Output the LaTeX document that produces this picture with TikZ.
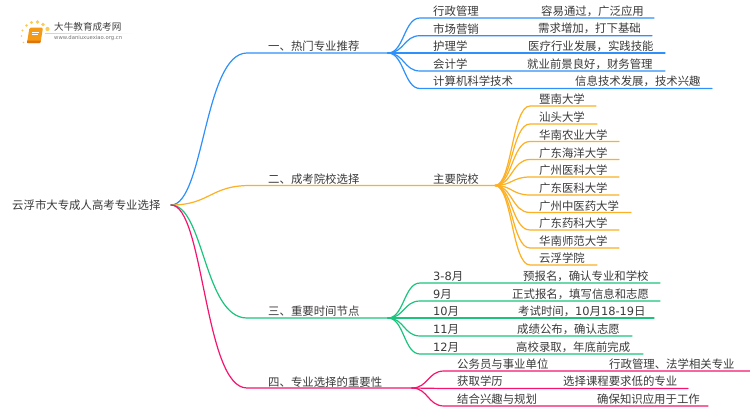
\documentclass[tikz,border=0pt]{standalone}
\usepackage{fontspec}
\usetikzlibrary{calc}
\setmainfont{Noto Sans CJK SC}
\newfontfamily\latf{DejaVu Sans}
\definecolor{cblue}{HTML}{2E90FA}
\definecolor{corange}{HTML}{FDB022}
\definecolor{cgreen}{HTML}{1BC47D}
\definecolor{cpink}{HTML}{F5146E}
\definecolor{ctext}{HTML}{3A3A3A}
\definecolor{bookc}{HTML}{F59A14}
\definecolor{bookd}{HTML}{E0740C}
\definecolor{dotc}{HTML}{FBCB5A}
\tikzset{
  lab/.style={anchor=west,inner sep=0pt,text=ctext,font=\fontsize{11.4}{12}\selectfont},
  conn/.style={line width=1.2pt,line cap=round,line join=round},
}
% \leaf{colour}{junction}{name}{line start x}{line end x}{line y}{text x}{text}{text2 x} {text2}
\newcommand{\leaf}[9]{%
  \coordinate (#3s) at (#4,#6);
  \coordinate (#3e) at (#5,#6);
  \coordinate (#3m) at ($(#2)!0.5!(#3s)$);
  \draw[conn,#1] (#2) .. controls (#3m |- #2) and (#3m |- #3s) .. (#3s) -- (#3e);
  \node[lab] (#3a) at (#7,#6-7) {#8};
  \node[lab] (#3b) at (#9,#6-7) }
\begin{document}
\begin{tikzpicture}[x=1pt,y=-1pt]
\useasboundingbox (0,0) rectangle (750,410);
\fill[white] (0,0) rectangle (750,410);
% logo
\fill[bookc,rounded corners=1.5pt] (29.5,27.5) -- (43,27.5) -- (40.5,43) -- (27,43) -- cycle;
\fill[bookd] (27,40.5) -- (40.7,40.5) -- (40.3,43) -- (27,43) -- cycle;
\draw[white,line width=.5pt] (32,32) -- (38.5,32) (31.5,34.5) -- (38,34.5);
\foreach \px/\py/\r in {47.5/29/2.1,43/24.5/1.9,37.5/22/1.8,31.5/22.5/1.6,26.5/25.5/1.3,22.5/30.5/1.1,21.5/36/.9,23.5/42.5/.8}
  \fill[dotc] (\px,\py) circle (\r);
\shade[left color=black!18,right color=white] (45,33.2) rectangle (133,33.8);
\node[anchor=west,inner sep=0pt,text=black!75,font=\fontsize{9.6}{10}\selectfont] (brand) at (54,27) {大牛教育成考网};
\node[anchor=west,inner sep=0pt,text=black!55,font=\latf\fontsize{5.3}{6}\selectfont] (url) at (54,38.5) {www.daniuxuexiao.org.cn};
% root
\node[lab] (root) at (12,205.5) {云浮市大专成人高考专业选择};
\coordinate (J) at (171,205);
% branches
\coordinate (b1s) at (247,53);\coordinate (J1) at (388,53);
\coordinate (b2s) at (250,185.5);\coordinate (J2) at (495,185.5);
\coordinate (b3s) at (247,318);\coordinate (J3) at (388,318);
\coordinate (b4s) at (247,388);\coordinate (J4) at (412,388);
\draw[conn,cblue] (J) .. controls (204,205) and (204,53) .. (b1s) -- (J1);
\draw[conn,corange] (J) .. controls (210,205) and (210,185.5) .. (b2s) -- (J2);
\draw[conn,cgreen] (J) .. controls (204,205) and (204,318) .. (b3s) -- (J3);
\draw[conn,cpink] (J) .. controls (204,205) and (204,388) .. (b4s) -- (J4);
\node[lab] (t1) at (268,46.5) {一、热门专业推荐};
\node[lab] (t2) at (268,179) {二、成考院校选择};
\node[lab] (t3) at (268,311.5) {三、重要时间节点};
\node[lab] (t4) at (268,382) {四、专业选择的重要性};
\node[lab] (t2a) at (433,179) {主要院校};
% group 1
\leaf{cblue}{J1}{a}{420}{654}{18}{433}{行政管理}{541}{容易通过，广泛应用};
\leaf{cblue}{J1}{b}{420}{652}{35.7}{433}{市场营销}{538}{需求增加，打下基础};
\leaf{cblue}{J1}{c}{420}{665}{53}{433}{护理学}{528}{医疗行业发展，实践技能};
\leaf{cblue}{J1}{d}{420}{665}{71}{433}{会计学}{527}{就业前景良好，财务管理};
\leaf{cblue}{J1}{f}{420}{712}{88.5}{433}{计算机科学技术}{575}{信息技术发展，技术兴趣};
% group 2
\foreach \n/\y/\e/\t in {p/106/596/暨南大学,q/124/597/汕头大学,r/141.5/619/华南农业大学,s/159.5/619/广东海洋大学,t/177/619/广州医科大学,u/195/619/广东医科大学,v/212.5/631/广州中医药大学,w/230/619/广东药科大学,x/248/619/华南师范大学,y/265/597/云浮学院}{
  \coordinate (\n s) at (530,\y);
  \coordinate (\n e) at (\e,\y);
  \draw[conn,corange] (J2) .. controls (512,185.5) and (512,\y) .. (\n s) -- (\n e);
  \node[lab] (\n a) at (539,\y-6.5) {\t};
}
% group 3
\leaf{cgreen}{J3}{g}{420}{660}{283}{433}{{\latf 3-8}月}{523}{预报名，确认专业和学校};
\leaf{cgreen}{J3}{h}{420}{660}{301}{433}{{\latf 9}月}{512}{正式报名，填写信息和志愿};
\leaf{cgreen}{J3}{i}{420}{654}{318}{433}{{\latf 10}月}{518}{考试时间，{\latf 10}月{\latf 18-19}日};
\leaf{cgreen}{J3}{j}{420}{632}{336}{433}{{\latf 11}月}{517}{成绩公布，确认志愿};
\leaf{cgreen}{J3}{k}{420}{643}{354}{433}{{\latf 12}月}{516}{高校录取，年底前完成};
% group 4
\leaf{cpink}{J4}{l}{444}{750}{371}{457}{公务员与事业单位}{609}{行政管理、法学相关专业};
\leaf{cpink}{J4}{m}{444}{688}{388.5}{457}{获取学历}{563}{选择课程要求低的专业};
\leaf{cpink}{J4}{n}{444}{708}{406}{457}{结合兴趣与规划}{597}{确保知识应用于工作};
\end{tikzpicture}
\end{document}
